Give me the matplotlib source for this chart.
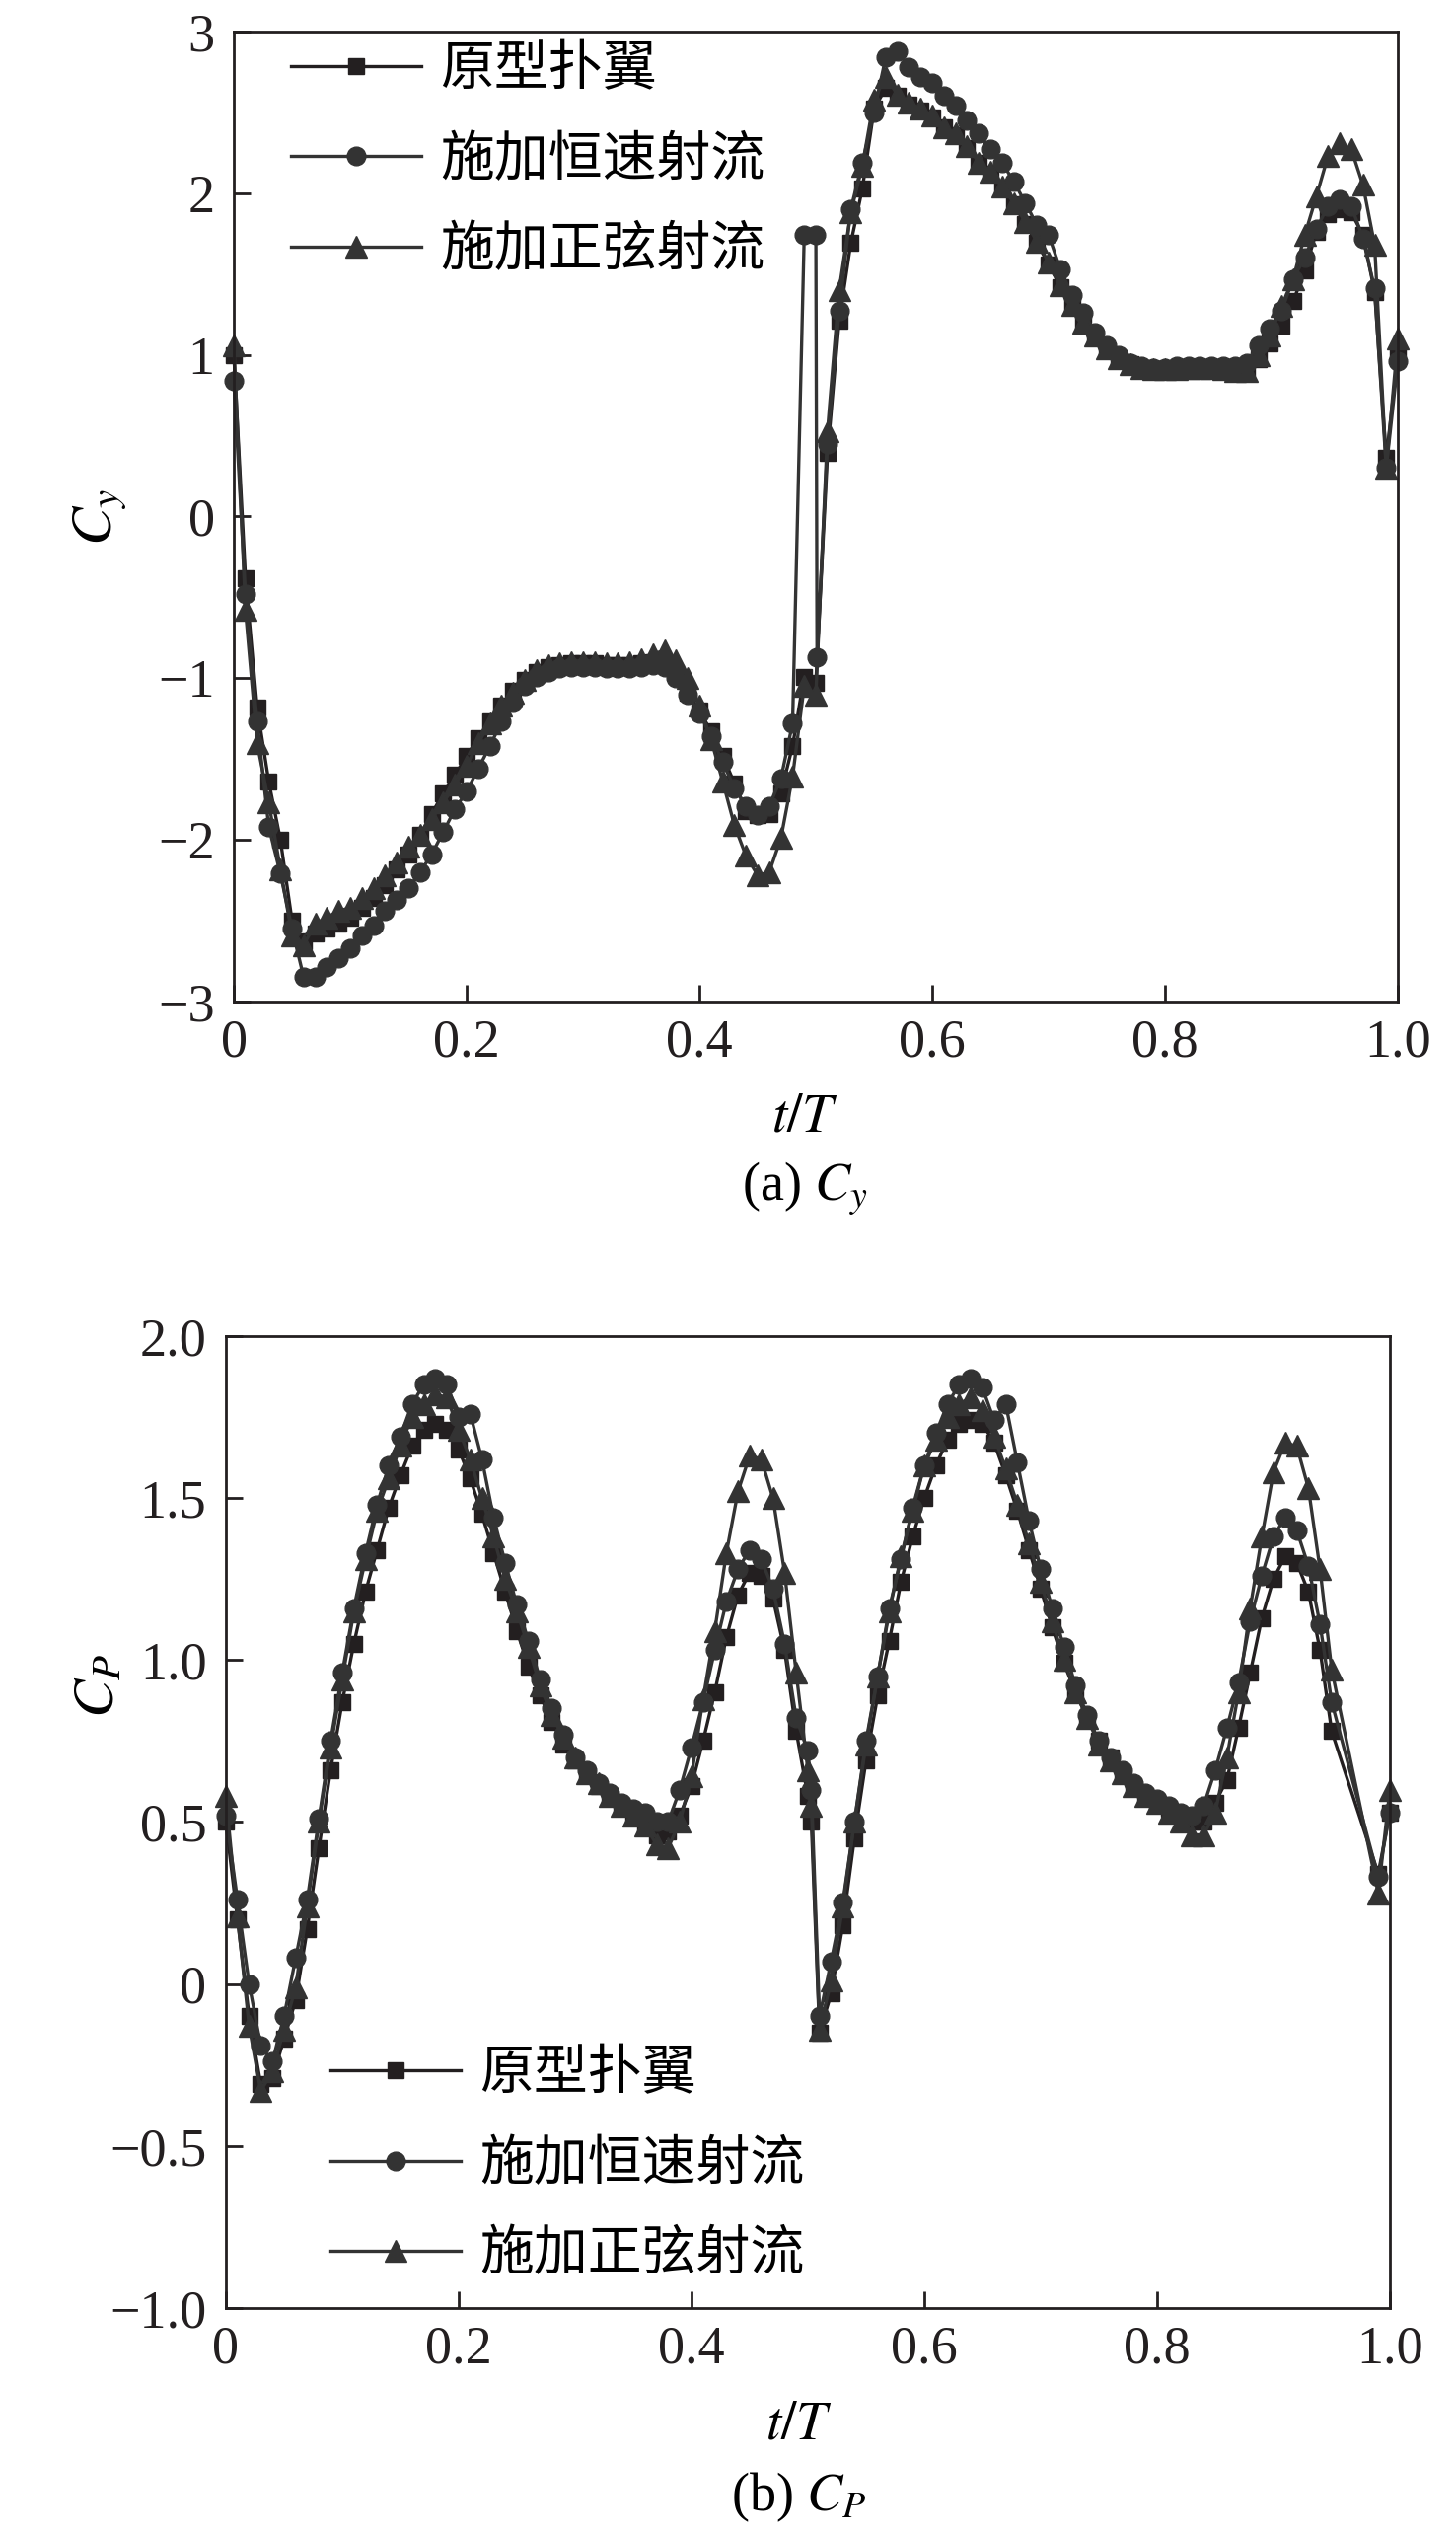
import numpy as np
import matplotlib
matplotlib.use('Agg')
import matplotlib.pyplot as plt
from matplotlib.font_manager import FontProperties

# ---- datos ----
nombres = ['原型扑翼', '施加恒速射流', '施加正弦射流']

# (a) Cy, t/T = 0 ... 1 paso 0.01 (el chorro constante tiene un punto extra en 0.501)
t_cy = np.round(np.arange(101) * 0.01, 2)
t_cy_const = np.insert(t_cy, 51, 0.501)

cy_proto = [1.00, -0.38, -1.18, -1.64, -2.00, -2.50, -2.63, -2.58, -2.55, -2.52,
            -2.48, -2.42, -2.36, -2.28, -2.18, -2.09, -1.97, -1.84, -1.71, -1.60,
            -1.48, -1.37, -1.27, -1.17, -1.08, -1.01, -0.96, -0.93, -0.92, -0.91,
            -0.91, -0.91, -0.92, -0.92, -0.92, -0.91, -0.90, -0.92, -0.97, -1.09,
            -1.20, -1.33, -1.48, -1.65, -1.82, -1.85, -1.84, -1.71, -1.42, -0.99,
            -1.03, 0.39, 1.21, 1.69, 2.03, 2.52, 2.65, 2.60, 2.55, 2.51,
            2.47, 2.41, 2.36, 2.28, 2.19, 2.12, 2.03, 1.93, 1.81, 1.69,
            1.56, 1.42, 1.30, 1.19, 1.11, 1.03, 0.97, 0.94, 0.92, 0.91,
            0.91, 0.91, 0.92, 0.92, 0.92, 0.92, 0.92, 0.92, 0.97, 1.07,
            1.18, 1.33, 1.52, 1.76, 1.87, 1.90, 1.88, 1.74, 1.39, 0.36,
            1.00]

cy_const = [0.84, -0.48, -1.27, -1.92, -2.21, -2.55, -2.85, -2.85, -2.79, -2.73,
            -2.67, -2.59, -2.53, -2.44, -2.37, -2.30, -2.20, -2.09, -1.95, -1.81,
            -1.70, -1.56, -1.42, -1.27, -1.15, -1.05, -0.99, -0.96, -0.94, -0.93,
            -0.93, -0.93, -0.94, -0.94, -0.94, -0.93, -0.92, -0.93, -1.00, -1.10,
            -1.22, -1.36, -1.52, -1.68, -1.79, -1.85, -1.79, -1.62, -1.28, 1.74,
            1.74, -0.87, 0.45, 1.27, 1.90, 2.19, 2.50, 2.84, 2.88, 2.78, 2.72,
            2.68, 2.60, 2.54, 2.45, 2.37, 2.27, 2.19, 2.07, 1.94, 1.80,
            1.74, 1.53, 1.37, 1.26, 1.14, 1.06, 1.00, 0.95, 0.93, 0.92,
            0.92, 0.93, 0.93, 0.93, 0.93, 0.93, 0.93, 0.95, 1.06, 1.16,
            1.27, 1.47, 1.60, 1.78, 1.92, 1.96, 1.92, 1.72, 1.41, 0.30,
            0.96]

cy_sine = [1.06, -0.58, -1.40, -1.77, -2.18, -2.59, -2.65, -2.52, -2.48, -2.44,
           -2.42, -2.36, -2.30, -2.22, -2.14, -2.04, -1.97, -1.87, -1.77, -1.66,
           -1.54, -1.40, -1.28, -1.17, -1.09, -1.01, -0.95, -0.92, -0.91, -0.90,
           -0.90, -0.90, -0.91, -0.91, -0.90, -0.88, -0.85, -0.83, -0.89, -1.00,
           -1.17, -1.38, -1.64, -1.91, -2.10, -2.22, -2.20, -1.99, -1.61, -1.05,
           -1.10, 0.53, 1.40, 1.88, 2.17, 2.58, 2.72, 2.61, 2.56, 2.52,
           2.48, 2.41, 2.37, 2.29, 2.19, 2.13, 2.04, 1.94, 1.82, 1.70,
           1.57, 1.43, 1.31, 1.20, 1.12, 1.04, 0.98, 0.94, 0.92, 0.91,
           0.91, 0.91, 0.92, 0.92, 0.92, 0.91, 0.90, 0.90, 1.00, 1.12,
           1.30, 1.47, 1.74, 1.98, 2.23, 2.31, 2.27, 2.05, 1.68, 0.30,
           1.10]

# (b) CP, t/T = 0 ... 0.95, 0.99, 1.0 (punto extra en 0.503)
t_cp = np.r_[np.round(np.arange(96) * 0.01, 2), 0.99, 1.0]
t_cp = np.insert(t_cp, 51, 0.503)

cp_proto = [0.50, 0.20, -0.10, -0.31, -0.29, -0.17, -0.05, 0.17, 0.42, 0.66,
            0.87, 1.05, 1.21, 1.34, 1.47, 1.57, 1.66, 1.71, 1.73, 1.71,
            1.65, 1.56, 1.45, 1.33, 1.21, 1.09, 0.98, 0.89, 0.81, 0.74,
            0.69, 0.65, 0.61, 0.58, 0.55, 0.52, 0.49, 0.46, 0.47, 0.52,
            0.61, 0.75, 0.90, 1.07, 1.20, 1.27, 1.26, 1.19, 1.03, 0.78,
            0.58, 0.50, -0.15, -0.03, 0.18, 0.45, 0.69, 0.89, 1.06, 1.24, 1.38,
            1.50, 1.60, 1.68, 1.73, 1.74, 1.73, 1.67, 1.57, 1.46, 1.34,
            1.22, 1.10, 0.99, 0.90, 0.82, 0.75, 0.70, 0.65, 0.61, 0.58,
            0.56, 0.54, 0.52, 0.50, 0.50, 0.56, 0.63, 0.79, 0.96, 1.13,
            1.25, 1.32, 1.30, 1.21, 1.03, 0.78,
            0.34, 0.53]

cp_const = [0.52, 0.26, 0.00, -0.19, -0.24, -0.10, 0.08, 0.26, 0.51, 0.75,
            0.96, 1.16, 1.33, 1.48, 1.60, 1.69, 1.79, 1.85, 1.87, 1.85,
            1.75, 1.76, 1.62, 1.44, 1.30, 1.17, 1.06, 0.94, 0.85, 0.77,
            0.70, 0.66, 0.62, 0.59, 0.56, 0.54, 0.53, 0.50, 0.50, 0.60,
            0.73, 0.87, 1.03, 1.18, 1.28, 1.34, 1.31, 1.22, 1.05, 0.82,
            0.72, 0.60, -0.10, 0.07, 0.25, 0.50, 0.75, 0.95, 1.16, 1.31, 1.47,
            1.60, 1.70, 1.79, 1.85, 1.87, 1.84, 1.74, 1.79, 1.61, 1.43,
            1.28, 1.16, 1.04, 0.92, 0.83, 0.75, 0.70, 0.66, 0.62, 0.59,
            0.57, 0.55, 0.53, 0.52, 0.55, 0.66, 0.79, 0.93, 1.12, 1.26,
            1.38, 1.44, 1.40, 1.29, 1.11, 0.87,
            0.33, 0.53]

cp_sine = [0.58, 0.21, -0.13, -0.33, -0.27, -0.14, -0.01, 0.24, 0.50, 0.73,
           0.94, 1.15, 1.31, 1.46, 1.56, 1.66, 1.75, 1.79, 1.82, 1.81,
           1.71, 1.62, 1.50, 1.38, 1.25, 1.15, 1.04, 0.92, 0.83, 0.76,
           0.70, 0.65, 0.62, 0.58, 0.55, 0.52, 0.49, 0.43, 0.42, 0.50,
           0.64, 0.88, 1.09, 1.33, 1.52, 1.63, 1.62, 1.50, 1.27, 0.96,
           0.66, 0.55, -0.14, 0.01, 0.24, 0.50, 0.74, 0.95, 1.15, 1.32, 1.46,
           1.60, 1.68, 1.75, 1.79, 1.81, 1.77, 1.69, 1.59, 1.48, 1.36,
           1.24, 1.12, 1.00, 0.90, 0.82, 0.74, 0.69, 0.65, 0.61, 0.58,
           0.56, 0.53, 0.50, 0.46, 0.46, 0.53, 0.70, 0.90, 1.16, 1.38,
           1.58, 1.67, 1.66, 1.53, 1.28, 0.97,
           0.28, 0.60]

xticks = [0, 0.2, 0.4, 0.6, 0.8, 1.0]
xtick_labels = ['0', '0.2', '0.4', '0.6', '0.8', '1.0']
cy_ticks = [-3, -2, -1, 0, 1, 2, 3]
cy_tick_labels = ['\u22123', '\u22122', '\u22121', '0', '1', '2', '3']
cp_ticks = [-1.0, -0.5, 0, 0.5, 1.0, 1.5, 2.0]
cp_tick_labels = ['\u22121.0', '\u22120.5', '0', '0.5', '1.0', '1.5', '2.0']

# ---- estilo ----
plt.rcParams['font.family'] = ['Liberation Serif', 'Noto Sans CJK SC']
plt.rcParams['mathtext.fontset'] = 'stix'

marcas = [('s', 11.5, '#231f20'), ('o', 13.5, '#333333'), ('^', 16.5, '#333333')]
fuente_ley = FontProperties(family='Noto Sans CJK SC', size=39.5)


def panel(ax, series, yticks, ylabels, ylim):
    for (t, y), nombre, (m, ms, c) in zip(series, nombres, marcas):
        ax.plot(t, y, marker=m, ms=ms, color=c, mfc=c, mec=c, lw=2.4,
                label=nombre, clip_on=False)
    ax.set_xlim(0, 1)
    ax.set_ylim(*ylim)
    ax.set_xticks(xticks)
    ax.set_xticklabels(xtick_labels)
    ax.set_yticks(yticks)
    ax.set_yticklabels(ylabels)
    ax.tick_params(direction='in', length=12, width=2, labelsize=39,
                   color='#231f20', labelcolor='#231f20')
    ax.tick_params(axis='x', pad=12)
    ax.tick_params(axis='y', pad=14)
    for s in ax.spines.values():
        s.set_linewidth(2)
        s.set_color('#231f20')


fig = plt.figure(figsize=(14.76, 25.68), dpi=100)
ax1 = fig.add_axes([0.1606, 0.6048, 0.7995, 0.3828])
ax2 = fig.add_axes([0.1551, 0.0892, 0.7995, 0.3836])

panel(ax1, [(t_cy, cy_proto), (t_cy_const, cy_const), (t_cy, cy_sine)],
      cy_ticks, cy_tick_labels, (-3, 3))
panel(ax2, [(t_cp, cp_proto), (t_cp, cp_const), (t_cp, cp_sine)],
      cp_ticks, cp_tick_labels, (-1, 2))

ax1.set_ylabel('$C_y$', fontsize=42, va='center')
ax1.yaxis.set_label_coords(-0.115, 0.5)
ax2.set_ylabel('$C_P$', fontsize=42, va='center')
ax2.yaxis.set_label_coords(-0.108, 0.64)

ax1.legend(loc='upper left', bbox_to_anchor=(0.049, 0.99), frameon=False,
           prop=fuente_ley, handlelength=2.4, handletextpad=0.35,
           labelspacing=0.62, borderpad=0, borderaxespad=0)
ax2.legend(loc='lower left', bbox_to_anchor=(0.09, 0.026), frameon=False,
           prop=fuente_ley, handlelength=2.4, handletextpad=0.35,
           labelspacing=0.62, borderpad=0, borderaxespad=0)

fig.text(0.553, 0.559, '$t/T$', ha='center', va='center', fontsize=40)
fig.text(0.553, 0.531, '(a) $C_y$', ha='center', va='center', fontsize=39)
fig.text(0.549, 0.0432, '$t/T$', ha='center', va='center', fontsize=40)
fig.text(0.549, 0.0144, '(b) $C_P$', ha='center', va='center', fontsize=39)

fig.savefig('out.png', dpi=100)
